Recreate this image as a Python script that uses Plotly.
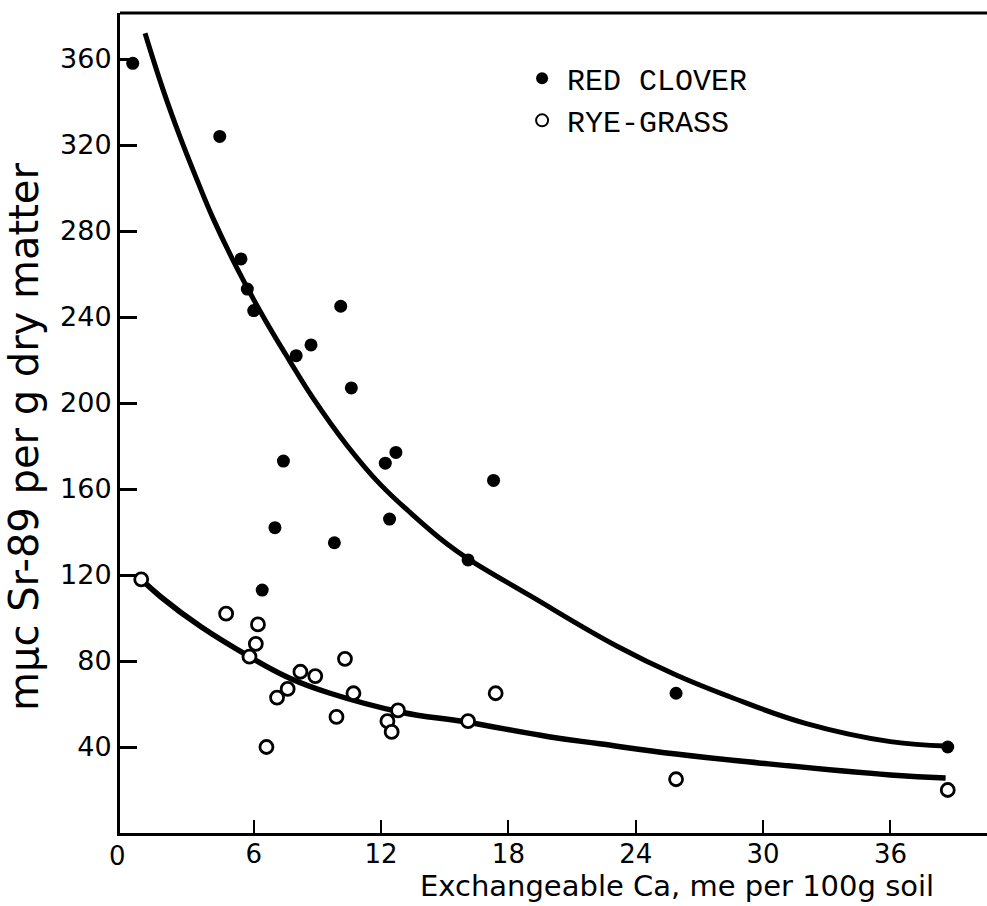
import plotly.graph_objects as go

# Red clover (filled points)
clover_x = [0.3, 4.4, 5.4, 5.7, 6.0, 8.0, 8.7, 10.1, 10.6, 7.4, 12.2, 12.7, 7.0, 12.4, 9.8, 6.4, 17.3, 16.1, 25.9, 38.7]
clover_y = [358, 324, 267, 253, 243, 222, 227, 245, 207, 173, 172, 177, 142, 146, 135, 113, 164, 127, 65, 40]

# Rye-grass (open points)
rye_x = [0.7, 4.7, 6.2, 6.1, 5.8, 7.1, 7.6, 8.2, 8.9, 10.3, 9.9, 6.6, 10.7, 12.3, 12.5, 12.8, 16.1, 17.4, 25.9, 38.7]
rye_y = [118, 102, 97, 88, 82, 63, 67, 75, 73, 81, 54, 40, 65, 52, 47, 57, 52, 65, 25, 20]

# Hand-drawn fitted curves
clover_curve_x = [0.88, 1.72, 2.52, 3.32, 4.08, 5.2, 6.43, 7.7, 8.78, 10.38, 11.93, 13.49,
                  15.1, 16.1, 19.0, 23.1, 25.9, 28.4, 32.0, 36.0, 38.6]
clover_curve_y = [372, 346, 324, 304, 286, 263, 240.5, 219.5, 202.5, 180.5, 162.5, 148,
                  134.5, 127.5, 110.5, 87, 73.5, 63.5, 51, 42.5, 40.5]
rye_curve_x = [0.7, 1.6, 3.5, 5.8, 7.7, 9.6, 12.9, 16.0, 19.9, 22.3, 25.9, 29.8, 36.0, 38.6]
rye_curve_y = [118, 110, 96, 82, 72, 65, 56.3, 51.6, 44.8, 41.5, 36.7, 32.6, 27, 25.6]

x_ticks = [6, 12, 18, 24, 30, 36]
y_ticks = [40, 80, 120, 160, 200, 240, 280, 320, 360]

fig = go.Figure()
fig.add_trace(go.Scatter(x=clover_curve_x, y=clover_curve_y, mode="lines",
                         line=dict(color="black", width=5, shape="spline", smoothing=1.2),
                         showlegend=False, hoverinfo="skip"))
fig.add_trace(go.Scatter(x=rye_curve_x, y=rye_curve_y, mode="lines",
                         line=dict(color="black", width=5.5, shape="spline", smoothing=1.2),
                         showlegend=False, hoverinfo="skip"))
fig.add_trace(go.Scatter(x=clover_x, y=clover_y, mode="markers", name="RED CLOVER",
                         marker=dict(symbol="circle", size=13, color="black")))
fig.add_trace(go.Scatter(x=rye_x, y=rye_y, mode="markers", name="RYE-GRASS",
                         marker=dict(symbol="circle", size=13, color="white",
                                     line=dict(color="black", width=2.8))))

fig.update_layout(
    width=987, height=906,
    margin=dict(l=120, r=0, t=13, b=73),
    paper_bgcolor="white", plot_bgcolor="white",
    font=dict(family="DejaVu Sans", color="black", size=27),
    legend=dict(x=0.458, y=0.952, xanchor="left", yanchor="top",
                font=dict(family="Liberation Mono", size=30, color="black"),
                bgcolor="rgba(0,0,0,0)", itemsizing="constant", itemwidth=40),
    xaxis=dict(range=[-0.3, 40.55], tickmode="array", tickvals=x_ticks,
               ticktext=[str(v) for v in x_ticks],
               showline=True, linecolor="black", linewidth=3,
               ticks="inside", ticklen=13, tickwidth=2, tickcolor="black",
               showgrid=False, zeroline=False, ticklabelstandoff=-4,
               tickfont=dict(size=26)),
    yaxis=dict(range=[0, 381.4], tickmode="array", tickvals=y_ticks,
               ticktext=[str(v) for v in y_ticks],
               showline=True, linecolor="black", linewidth=3,
               ticks="inside", ticklen=17, tickwidth=3, tickcolor="black",
               showgrid=False, zeroline=False,
               tickfont=dict(size=27)),
    shapes=[dict(type="line", xref="paper", yref="paper", x0=0, x1=1, y0=1, y1=1,
                 line=dict(color="black", width=3))],
    annotations=[
        dict(text="0", xref="paper", yref="paper", x=0, y=0, xanchor="center",
             yanchor="top", xshift=-3, yshift=-6, showarrow=False, font=dict(size=26)),
        dict(text="Exchangeable Ca, me per 100g soil", xref="paper", yref="paper",
             x=0.642, y=-0.0646, xanchor="center", yanchor="middle", showarrow=False,
             font=dict(size=29)),
        dict(text="mμc Sr-89 per g dry matter", xref="paper", yref="paper",
             x=0, y=0.483, xshift=-96, xanchor="center", yanchor="middle", textangle=-90,
             showarrow=False, font=dict(size=40)),
    ],
)

fig.write_html("out.html")
